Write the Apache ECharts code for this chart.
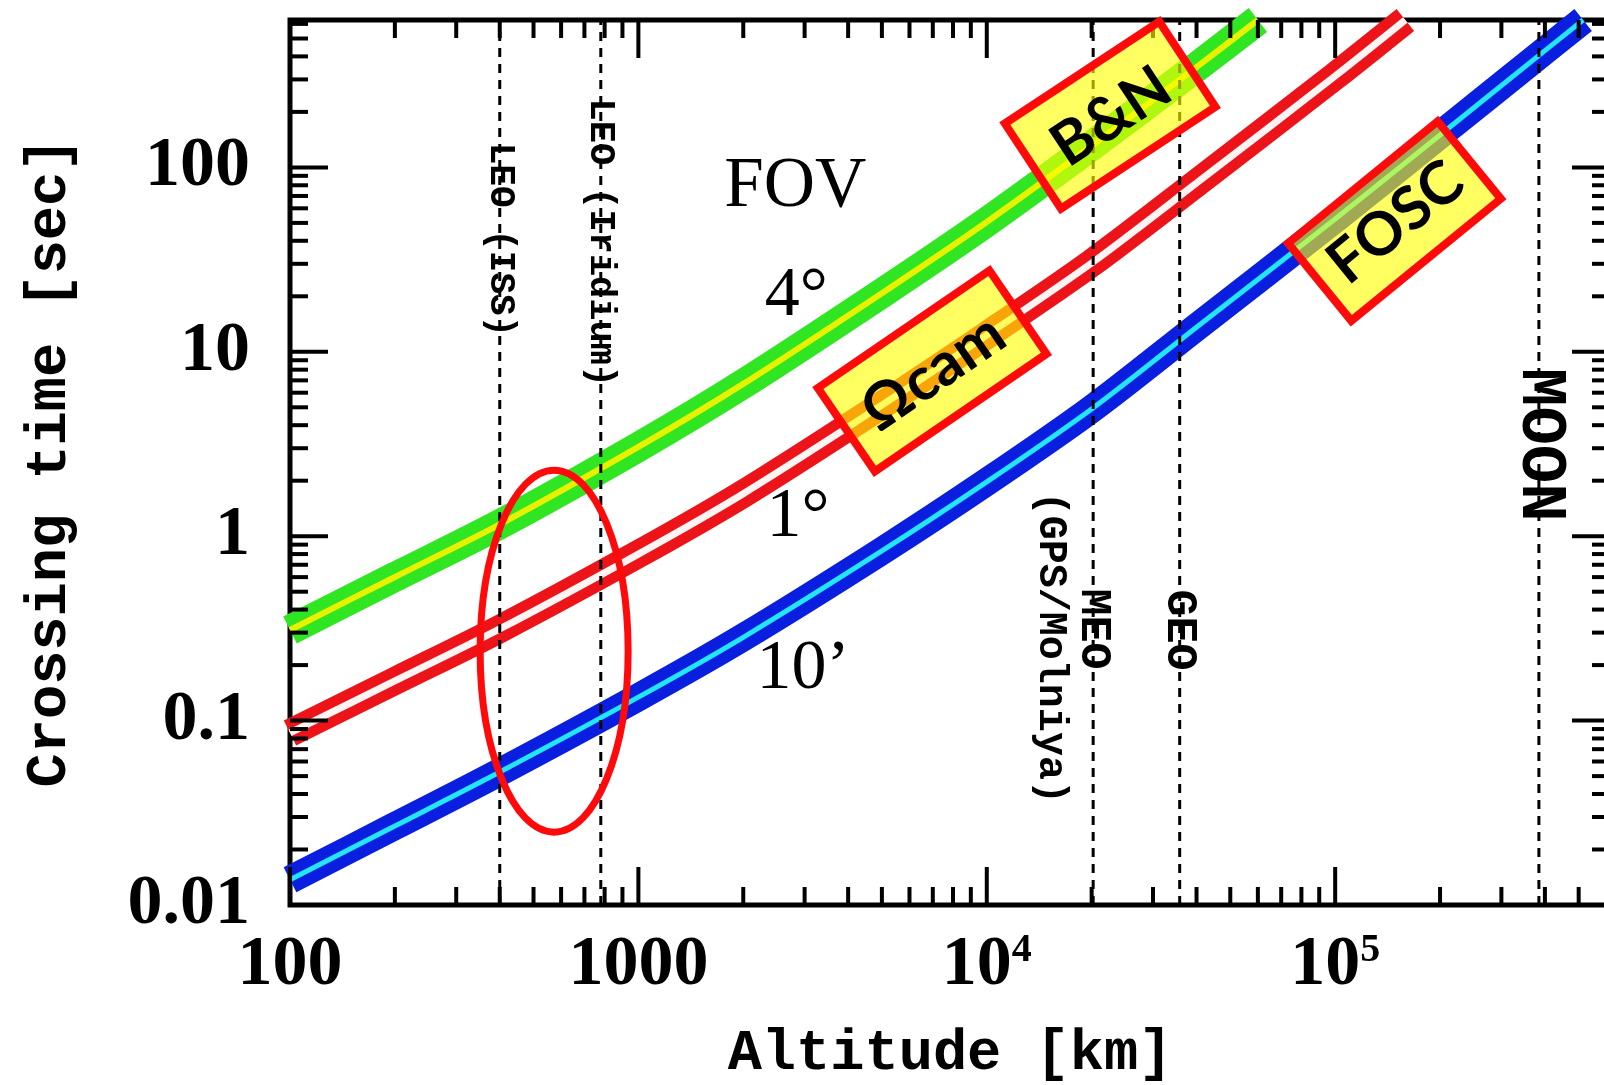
<!DOCTYPE html>
<html>
<head>
<meta charset="utf-8">
<script src="https://cdn.jsdelivr.net/npm/echarts@6/dist/echarts.min.js"></script>
<style>
html,body{margin:0;padding:0;background:#fff;}
#chart{width:1604px;height:1085px;}
</style>
</head>
<body>
<div id="chart"></div>
<script>
// ---- data (altitude [km], crossing time [sec]) ----
const fov4deg = [[100,0.310],[200,0.601],[400,1.16],[1000,3.05],[2000,6.70],[5000,20.8],[10000,50.6],[20000,131],[40000,350],[60000,630]];
const fov1deg = [[100,0.0857],[200,0.164],[400,0.314],[1000,0.800],[2000,1.70],[5000,5.14],[10000,12.3],[20000,30.3],[40000,82.2],[100000,313],[159000,630]];
const fov10arcmin = [[100,0.0137],[200,0.0268],[400,0.0526],[1000,0.134],[2000,0.283],[5000,0.832],[10000,1.97],[20000,4.90],[40000,13.6],[100000,52.5],[200000,150],[400000,430],[515000,630]];
const orbitAltitudes = [400, 780, 20200, 35786, 384400];

const xTickValues = [100, 1000, 10000, 100000];
const xTickLabels = ['100', '1000', '{b|10}{s|4}', '{b|10}{s|5}'];
const xMinorTicks = [200,300,400,500,600,700,800,900,2000,3000,4000,5000,6000,7000,8000,9000,
  20000,30000,40000,50000,60000,70000,80000,90000,200000,300000,400000,500000,600000];
const yTickValues = [0.01, 0.1, 1, 10, 100];
const yTickLabels = ['0.01', '0.1', '1', '10', '100'];
const yMinorTicks = [0.02,0.03,0.04,0.05,0.06,0.07,0.08,0.09,0.2,0.3,0.4,0.5,0.6,0.7,0.8,0.9,
  2,3,4,5,6,7,8,9,20,30,40,50,60,70,80,90,200,300,400,500,600];

const X_MIN = 100, X_MAX = 615000, Y_MIN = 0.01, Y_MAX = 630;

// ---- annotation layout (anchors in data units) ----
const SERIF = '"Liberation Serif", "Times New Roman", serif';
const MONO = '"Liberation Mono", "DejaVu Sans Mono", monospace';
const SANS = 'Lato, "Open Sans", sans-serif';
const textNotes = [
  {text:'FOV', at:[2820, 78.3], font:'normal 71px ' + SERIF, rot:0},
  {text:'4°', at:[2840, 19.8], font:'normal 70px ' + SERIF, rot:0},
  {text:'1°', at:[2874, 1.256], font:'normal 70px ' + SERIF, rot:0},
  {text:'10’', at:[2970, 0.188], font:'normal 70px ' + SERIF, rot:0},
  {text:'LEO (ISS)', at:[400, 40.4], font:'bold 36px ' + MONO, rot:-90},
  {text:'LEO (Iridium)', at:[780, 39], font:'bold 37px ' + MONO, rot:-90},
  {text:'MEO', at:[20200, 0.314], font:'bold 45px ' + MONO, rot:-90},
  {text:'(GPS/Molniya)', at:[15200, 0.248], font:'bold 40px ' + MONO, rot:-90},
  {text:'GEO', at:[35786, 0.31], font:'bold 45px ' + MONO, rot:-90},
  {text:'MOON', at:[384400, 3.13], font:'bold 64px ' + MONO, rot:-90}
];
const boxNotes = [
  {text:'B&N', at:[22600, 192], w:185, h:102, angle:33.4},
  {text:'Ωcam', at:[6970, 7.87], w:208, h:101, angle:34.4},
  {text:'FOSC', at:[148000, 51.2], w:193, h:100, angle:39.2}
];
const ringNote = {at:[573, 0.238], rx:74, ry:181};

function labelFor(v, values, labels) {
  for (let i = 0; i < values.length; i++) {
    if (Math.abs(Math.log10(v) - Math.log10(values[i])) < 1e-6) return labels[i];
  }
  return '';
}

const chart = echarts.init(document.getElementById('chart'), null, {renderer:'canvas'});

function tickSeries(values, axis, len) {
  return {
    type:'custom', silent:true, z:6,
    data: values.map(v => axis === 'x' ? [v, Y_MIN] : [X_MIN, v]),
    renderItem: function (params, api) {
      const cs = params.coordSys;
      const p = api.coord([api.value(0), api.value(1)]);
      const st = {stroke:'#000', lineWidth:4};
      if (axis === 'x') {
        return {type:'group', children:[
          {type:'line', shape:{x1:p[0], y1:cs.y + cs.height, x2:p[0], y2:cs.y + cs.height - len}, style:st},
          {type:'line', shape:{x1:p[0], y1:cs.y, x2:p[0], y2:cs.y + len}, style:st}
        ]};
      }
      return {type:'group', children:[
        {type:'line', shape:{x1:cs.x, y1:p[1], x2:cs.x + len, y2:p[1]}, style:st},
        {type:'line', shape:{x1:cs.x + cs.width, y1:p[1], x2:cs.x + cs.width - len, y2:p[1]}, style:st}
      ]};
    }
  };
}

function curvePair(data, outer, inner, outerW, innerW) {
  const base = {type:'line', data:data, showSymbol:false, symbol:'none', smooth:0.3,
    clip:false, silent:true, animation:false};
  return [
    Object.assign({}, base, {z:2, lineStyle:{color:outer, width:outerW, cap:'butt'}}),
    Object.assign({}, base, {z:3, lineStyle:{color:inner, width:innerW, cap:'butt'}})
  ];
}

const option = {
  animation:false,
  backgroundColor:'#fff',
  grid:{left:290, top:20, width:1320, height:885, show:true, borderColor:'#000', borderWidth:5,
        backgroundColor:'transparent', containLabel:false, outerBoundsMode:'none'},
  xAxis:{
    type:'log', logBase:10, min:X_MIN, max:X_MAX,
    axisLine:{show:false}, axisTick:{show:false}, splitLine:{show:false}, minorTick:{show:false},
    axisLabel:{
      margin:26, color:'#000', fontFamily:SERIF, fontSize:70, fontWeight:'bold',
      showMinLabel:true, showMaxLabel:false, hideOverlap:false,
      formatter:v => labelFor(v, xTickValues, xTickLabels),
      rich:{
        b:{fontFamily:SERIF, fontSize:70, fontWeight:'bold', color:'#000'},
        s:{fontFamily:SERIF, fontSize:40, fontWeight:'bold', color:'#000', verticalAlign:'top'}
      }
    },
    name:'Altitude [km]', nameLocation:'middle', nameGap:121,
    nameTextStyle:{fontFamily:MONO, fontSize:57, fontWeight:'bold', color:'#000'}
  },
  yAxis:{
    type:'log', logBase:10, min:Y_MIN, max:Y_MAX,
    axisLine:{show:false}, axisTick:{show:false}, splitLine:{show:false}, minorTick:{show:false},
    axisLabel:{
      margin:40, color:'#000', fontFamily:SERIF, fontSize:70, fontWeight:'bold',
      showMinLabel:true, showMaxLabel:false, hideOverlap:false,
      formatter:v => labelFor(v, yTickValues, yTickLabels)
    },
    name:'Crossing time [sec]', nameLocation:'middle', nameRotate:90, nameGap:211,
    nameTextStyle:{fontFamily:MONO, fontSize:57, fontWeight:'bold', color:'#000'}
  },
  series:[].concat(
    curvePair(fov4deg, '#30e622', '#e8f200', 30, 6),
    curvePair(fov1deg, '#ec1418', '#fff4f4', 28, 7),
    curvePair(fov10arcmin, '#0a1ee0', '#22e6ff', 28, 5),
    [
      {
        type:'custom', silent:true, z:5,
        data: orbitAltitudes.map(a => [a, Y_MIN]),
        renderItem:function (params, api) {
          const cs = params.coordSys;
          const p = api.coord([api.value(0), Y_MIN]);
          return {type:'line', shape:{x1:p[0], y1:cs.y + cs.height, x2:p[0], y2:cs.y},
            style:{stroke:'#000', lineWidth:3, lineDash:[9,7]}};
        }
      },
      tickSeries(xTickValues, 'x', 38),
      tickSeries(xMinorTicks, 'x', 18),
      tickSeries(yTickValues, 'y', 38),
      tickSeries(yMinorTicks, 'y', 18),
      {
        type:'custom', silent:true, z:8,
        data: textNotes.map(n => n.at),
        renderItem:function (params, api) {
          const n = textNotes[params.dataIndex];
          const p = api.coord([api.value(0), api.value(1)]);
          return {type:'text', x:p[0], y:p[1], rotation:n.rot * Math.PI / 180,
            style:{text:n.text, font:n.font, fill:'#000', align:'center', verticalAlign:'middle'}};
        }
      },
      {
        type:'custom', silent:true, z:9,
        data: boxNotes.map(n => n.at),
        renderItem:function (params, api) {
          const n = boxNotes[params.dataIndex];
          const p = api.coord([api.value(0), api.value(1)]);
          return {type:'group', x:p[0], y:p[1], rotation:n.angle * Math.PI / 180, children:[
            {type:'rect', shape:{x:-n.w/2, y:-n.h/2, width:n.w, height:n.h},
              style:{fill:'rgba(255,255,0,0.62)', stroke:'#ff0a0a', lineWidth:8}},
            {type:'text', x:0, y:2, style:{text:n.text, font:'bold 60px ' + SANS, fill:'#000',
              align:'center', verticalAlign:'middle'}}
          ]};
        }
      },
      {
        type:'custom', silent:true, z:10,
        data:[ringNote.at],
        renderItem:function (params, api) {
          const p = api.coord([api.value(0), api.value(1)]);
          return {type:'ellipse', shape:{cx:p[0], cy:p[1], rx:ringNote.rx, ry:ringNote.ry},
            style:{fill:'none', stroke:'#ff0a0a', lineWidth:7}};
        }
      }
    ]
  )
};
chart.setOption(option);
</script>
</body>
</html>
